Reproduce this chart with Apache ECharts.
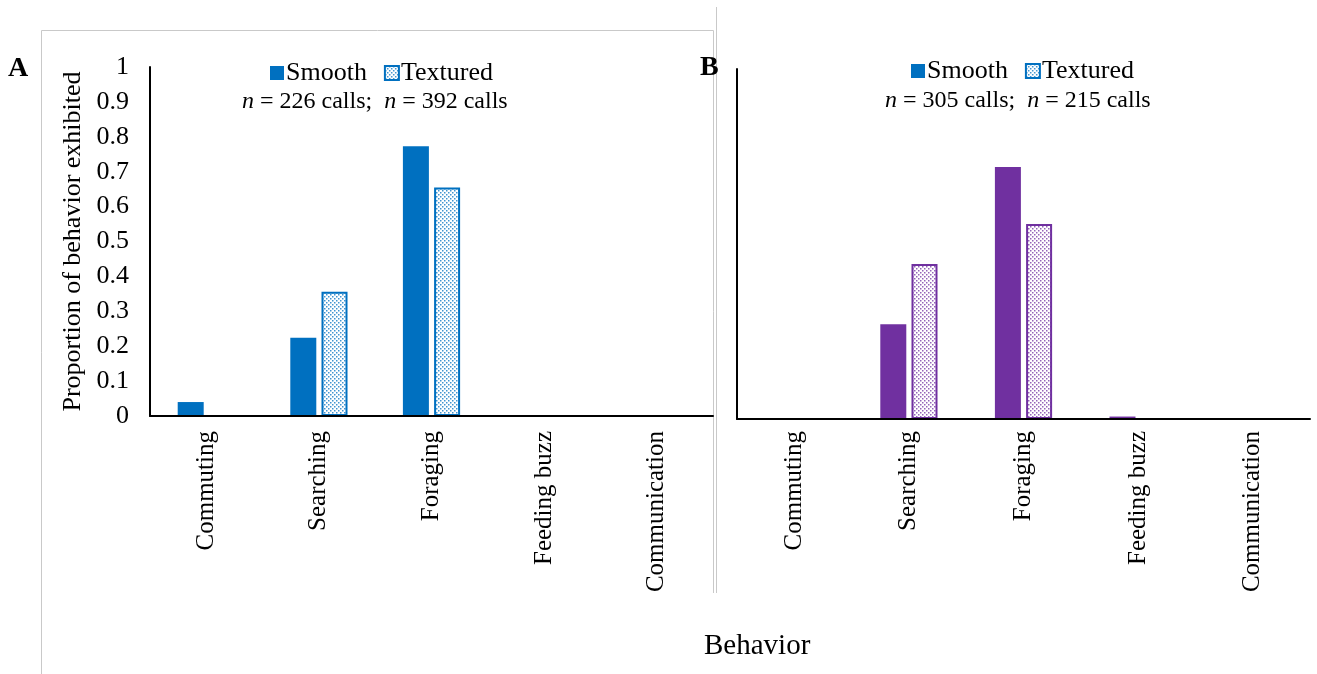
<!DOCTYPE html>
<html>
<head>
<meta charset="utf-8">
<script src="https://cdn.jsdelivr.net/npm/echarts@6/dist/echarts.min.js"></script>
<style>
  html, body { margin: 0; padding: 0; background: #fff; }
  #chart { width: 1317px; height: 674px; }
</style>
</head>
<body>
<div id="chart"></div>
<script>
// Behaviour categories shared by both panels
const categories = ['Commuting', 'Searching', 'Foraging', 'Feeding buzz', 'Communication'];
const yTicks = [0, 0.1, 0.2, 0.3, 0.4, 0.5, 0.6, 0.7, 0.8, 0.9, 1];

// Panel A: proportion of calls per behaviour
const smoothA = [0.04, 0.224, 0.773, 0, 0];
const texturedA = [0, 0.356, 0.655, 0, 0];
// Panel B
const smoothB = [0, 0.271, 0.72, 0.007, 0];
const texturedB = [0, 0.443, 0.557, 0, 0];

const nA = [226, 392];
const nB = [305, 215];

const BLUE = '#0070C0';
const PURPLE = '#7030A0';
const SERIF = '"Liberation Serif", "Times New Roman", serif';

// dotted fill for the textured surface bars
function dotPattern(color) {
  const c = document.createElement('canvas');
  c.width = 4; c.height = 4;
  const g = c.getContext('2d');
  g.fillStyle = '#fff';
  g.fillRect(0, 0, 4, 4);
  g.fillStyle = color;
  g.globalAlpha = 0.75;
  g.fillRect(0, 0, 1.5, 1.5);
  g.fillRect(2, 2, 1.5, 1.5);
  return { image: c, repeat: 'repeat' };
}

const chart = echarts.init(document.getElementById('chart'), null, { renderer: 'canvas' });

const grids = [
  { left: 150, top: 67, width: 563, height: 349 },
  { left: 737, top: 69, width: 573, height: 350 }
];

function xAxisFor(i, margin) {
  return {
    type: 'category', gridIndex: i, data: categories, z: 5,
    axisLine: { lineStyle: { color: '#000', width: 2 } },
    axisTick: { show: false },
    axisLabel: { rotate: 90, margin: margin, fontFamily: SERIF, fontSize: 25, color: '#000', interval: 0 }
  };
}
function yAxisFor(i, showLabels) {
  return {
    type: 'value', gridIndex: i, min: yTicks[0], max: yTicks[yTicks.length - 1], interval: 0.1,
    axisLine: { show: true, lineStyle: { color: '#000', width: 2 } },
    axisTick: { show: false },
    splitLine: { show: false },
    axisLabel: {
      show: showLabels, margin: 21, fontFamily: SERIF, fontSize: 26, color: '#000',
      formatter: v => String(parseFloat(v.toFixed(1)))
    },
    name: showLabels ? 'Proportion of behavior exhibited' : '',
    nameLocation: 'middle', nameGap: 64, nameRotate: 90,
    nameTextStyle: { fontFamily: SERIF, fontSize: 26, color: '#000' }
  };
}

function smoothSeries(i, data, color) {
  return {
    name: 'Smooth', type: 'bar', xAxisIndex: i, yAxisIndex: i, data: data,
    barWidth: 26, barGap: '20%',
    itemStyle: { color: color }
  };
}
function texturedSeries(i, data, color) {
  return {
    name: 'Textured', type: 'bar', xAxisIndex: i, yAxisIndex: i, data: data,
    barWidth: 26, barGap: '20%',
    itemStyle: { color: dotPattern(color), borderColor: color, borderWidth: 2 }
  };
}

function nText(x, y, n) {
  return {
    type: 'text', left: x, top: y,
    style: {
      text: '{i|n} = ' + n[0] + ' calls;  {i|n} = ' + n[1] + ' calls',
      font: '24px ' + SERIF, fill: '#000',
      rich: { i: { fontStyle: 'italic', fontFamily: SERIF, fontSize: 24 } }
    }
  };
}

function legendAt(left, top, seriesIdx) {
  return {
    left: left, top: top, itemWidth: 14, itemHeight: 14, itemGap: 17,
    icon: 'rect',
    textStyle: { fontFamily: SERIF, fontSize: 26, color: '#000', padding: [0, 0, 0, -3] },
    data: ['Smooth', 'Textured'], seriesIndex: seriesIdx
  };
}

const frameColor = '#c9c9c9';

chart.setOption({
  animation: false,
  grid: grids,
  xAxis: [xAxisFor(0, 15), xAxisFor(1, 12)],
  yAxis: [yAxisFor(0, true), yAxisFor(1, false)],
  legend: [legendAt(265, 55, [0, 1]), legendAt(906, 53, [2, 3])],
  series: [
    smoothSeries(0, smoothA, BLUE),
    texturedSeries(0, texturedA, BLUE),
    smoothSeries(1, smoothB, PURPLE),
    texturedSeries(1, texturedB, PURPLE)
  ],
  graphic: [
    // panel frame lines
    { type: 'line', shape: { x1: 41.5, y1: 30.5, x2: 41.5, y2: 674 }, style: { stroke: frameColor, lineWidth: 1 } },
    { type: 'line', shape: { x1: 41.5, y1: 30.5, x2: 713.5, y2: 30.5 }, style: { stroke: frameColor, lineWidth: 1 } },
    { type: 'line', shape: { x1: 713.5, y1: 30.5, x2: 713.5, y2: 593 }, style: { stroke: frameColor, lineWidth: 1 } },
    { type: 'line', shape: { x1: 716.5, y1: 7, x2: 716.5, y2: 593 }, style: { stroke: frameColor, lineWidth: 1 } },
    // panel letters
    { type: 'text', left: 8, top: 55, style: { text: 'A', font: 'bold 28px ' + SERIF, fill: '#000' } },
    { type: 'text', left: 700, top: 54, style: { text: 'B', font: 'bold 28px ' + SERIF, fill: '#000' } },
    nText(242, 90, nA),
    nText(885, 89, nB),
    { type: 'text', left: 704, top: 632, style: { text: 'Behavior', font: '29px ' + SERIF, fill: '#000' } }
  ]
});
</script>
</body>
</html>
